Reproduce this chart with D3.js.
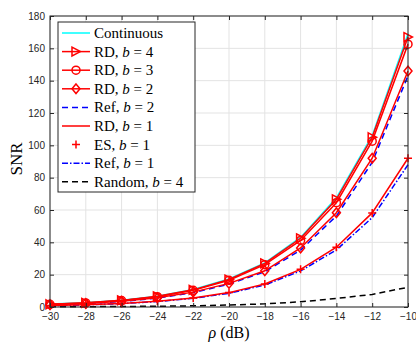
<!DOCTYPE html>
<html><head><meta charset="utf-8">
<script src="https://cdn.jsdelivr.net/npm/d3@7"></script>
<style>body{margin:0;background:#fff}svg{display:block}</style>
</head><body>
<svg id="c" width="416" height="343"></svg>
<script>
const rho = [-30,-28,-26,-24,-22,-20,-18,-16,-14,-12,-10];
const continuous = [1.8,2.7,4.2,6.7,10.8,17.3,27.3,43.0,67.5,106,169];
const rdB4 = [1.7,2.6,4.1,6.6,10.6,17.0,27.0,42.5,66.6,105,167];
const rdB3 = [1.65,2.5,4.0,6.4,10.3,16.5,26.2,41.2,64.5,102.6,162.6];
const rdB2 = [1.45,2.2,3.5,5.7,9.2,14.6,22.4,36.5,58.3,92,146];
const refB2 = [1.4,2.15,3.4,5.5,8.9,14.1,21.8,35.2,56.3,89.5,143];
const rdB1 = [0.9,1.4,2.2,3.5,5.6,8.9,14.2,23.3,37.0,58.2,92];
const esB1 = [0.9,1.4,2.2,3.5,5.6,8.9,14.2,23.3,37.0,58.2,92];
const refB1 = [0.85,1.33,2.1,3.35,5.35,8.5,13.6,22.3,35.3,55.3,88];
const randomB4 = [0.12,0.19,0.3,0.47,0.75,1.2,1.95,3.2,5.3,7.8,12.2];
const xTicks = [-30,-28,-26,-24,-22,-20,-18,-16,-14,-12,-10];
const yTicks = [0,20,40,60,80,100,120,140,160,180];
const legendLabels = ["Continuous","RD, b = 4","RD, b = 3","RD, b = 2","Ref, b = 2","RD, b = 1","ES, b = 1","Ref, b = 1","Random, b = 4"];

const svg = d3.select("#c");
const L=50,R=408,T=16,B=307;
const x = d3.scaleLinear().domain([-30,-10]).range([L,R]);
const y = d3.scaleLinear().domain([0,180]).range([B,T]);
const axisCol = "#262626";

// grid
const g = svg.append("g");
g.selectAll(".gx").data(xTicks).join("line").attr("x1",d=>x(d)).attr("x2",d=>x(d)).attr("y1",T).attr("y2",B).attr("stroke","#e3e3e3").attr("stroke-width",1);
g.selectAll(".gy").data(yTicks).join("line").attr("y1",d=>y(d)).attr("y2",d=>y(d)).attr("x1",L).attr("x2",R).attr("stroke","#e3e3e3").attr("stroke-width",1);

const line = d3.line().x((d,i)=>x(rho[i])).y(d=>y(d));
const plot = svg.append("g");
function drawLine(data,col,dash,w){
  plot.append("path").datum(data).attr("d",line).attr("fill","none").attr("stroke",col).attr("stroke-width",w).attr("stroke-dasharray",dash||null);
}
drawLine(continuous,"#00ffff",null,1.5);
drawLine(randomB4,"#000000","6,4",1.5);
drawLine(refB2,"#0000ff","6,4",1.5);
drawLine(refB1,"#0000ff","6,2,1.5,2",1.5);
drawLine(rdB1,"#ff0000",null,1.5);
drawLine(rdB2,"#ff0000",null,1.5);
drawLine(rdB3,"#ff0000",null,1.5);
drawLine(rdB4,"#ff0000",null,1.5);

function marker(sel,type){
  const s=4;
  if(type==="tri") sel.append("path").attr("d",`M${-s},${-s*1.1}L${s*1.1},0L${-s},${s*1.1}Z`);
  else if(type==="circ") sel.append("circle").attr("r",s);
  else if(type==="dia") sel.append("path").attr("d",`M0,${-s*1.2}L${s},0L0,${s*1.2}L${-s},0Z`);
  else if(type==="plus") sel.append("path").attr("d",`M${-s},0H${s}M0,${-s}V${s}`);
  sel.selectAll("*").attr("fill","none").attr("stroke","#ff0000").attr("stroke-width",1.5);
}
function drawMarkers(data,type){
  data.forEach((v,i)=>{ const m=plot.append("g").attr("transform",`translate(${x(rho[i])},${y(v)})`); marker(m,type); });
}
drawMarkers(rdB2,"dia");
drawMarkers(esB1,"plus");
drawMarkers(rdB3,"circ");
drawMarkers(rdB4,"tri");

// axes box
svg.append("rect").attr("x",L).attr("y",T).attr("width",R-L).attr("height",B-T).attr("fill","none").attr("stroke",axisCol).attr("stroke-width",1);
const xa = svg.append("g").attr("transform",`translate(0,${B})`).call(d3.axisBottom(x).tickValues(xTicks).tickSizeInner(-4).tickSizeOuter(0).tickPadding(6));
const ya = svg.append("g").attr("transform",`translate(${L},0)`).call(d3.axisLeft(y).tickValues(yTicks).tickSizeInner(-4).tickSizeOuter(0).tickPadding(5));
const xt = svg.append("g").attr("transform",`translate(0,${T})`).call(d3.axisTop(x).tickValues(xTicks).tickSizeInner(-4).tickSizeOuter(0).tickFormat(""));
const yr = svg.append("g").attr("transform",`translate(${R},0)`).call(d3.axisRight(y).tickValues(yTicks).tickSizeInner(-4).tickSizeOuter(0).tickFormat(""));
[xa,ya,xt,yr].forEach(a=>{a.select(".domain").remove(); a.selectAll("line").attr("stroke",axisCol); a.selectAll("text").attr("fill",axisCol).style("font-family","Liberation Sans, Arial, sans-serif").style("font-size","10px");});

// axis labels
svg.append("text").attr("x",229).attr("y",338).attr("text-anchor","middle").style("font-family","Liberation Serif, serif").style("font-size","16px").attr("fill","#000")
  .html('<tspan font-style="italic">ρ</tspan> (dB)');
svg.append("text").attr("transform",`translate(22,159) rotate(-90)`).attr("text-anchor","middle").style("font-family","Liberation Serif, serif").style("font-size","17px").attr("fill","#000").text("SNR");

// legend
const lx=58, ly=22, lw=137, lh=170;
const leg = svg.append("g");
leg.append("rect").attr("x",lx).attr("y",ly).attr("width",lw).attr("height",lh).attr("fill","#fff").attr("stroke",axisCol).attr("stroke-width",1);
const styles = [
  {c:"#00ffff",d:null,m:null,line:true},
  {c:"#ff0000",d:null,m:"tri",line:true},
  {c:"#ff0000",d:null,m:"circ",line:true},
  {c:"#ff0000",d:null,m:"dia",line:true},
  {c:"#0000ff",d:"6,4",m:null,line:true},
  {c:"#ff0000",d:null,m:null,line:true},
  {c:"#ff0000",d:null,m:"plus",line:false},
  {c:"#0000ff",d:"6,2,1.5,2",m:null,line:true},
  {c:"#000000",d:"6,4",m:null,line:true}
];
legendLabels.forEach((lab,i)=>{
  const yy = 33 + i*18.6;
  const st = styles[i];
  if(st.line) leg.append("line").attr("x1",62).attr("x2",90).attr("y1",yy).attr("y2",yy).attr("stroke",st.c).attr("stroke-width",1.5).attr("stroke-dasharray",st.d);
  if(st.m){ const m=leg.append("g").attr("transform",`translate(76,${yy})`); marker(m,st.m); }
  const t = leg.append("text").attr("x",94).attr("y",yy+5).style("font-family","Liberation Serif, serif").style("font-size","15px").attr("fill","#000");
  const parts = lab.split("b");
  if(parts.length>1){ t.append("tspan").text(parts[0]); t.append("tspan").attr("font-style","italic").text("b"); t.append("tspan").text(parts[1]); }
  else t.text(lab);
});
</script>
</body></html>
